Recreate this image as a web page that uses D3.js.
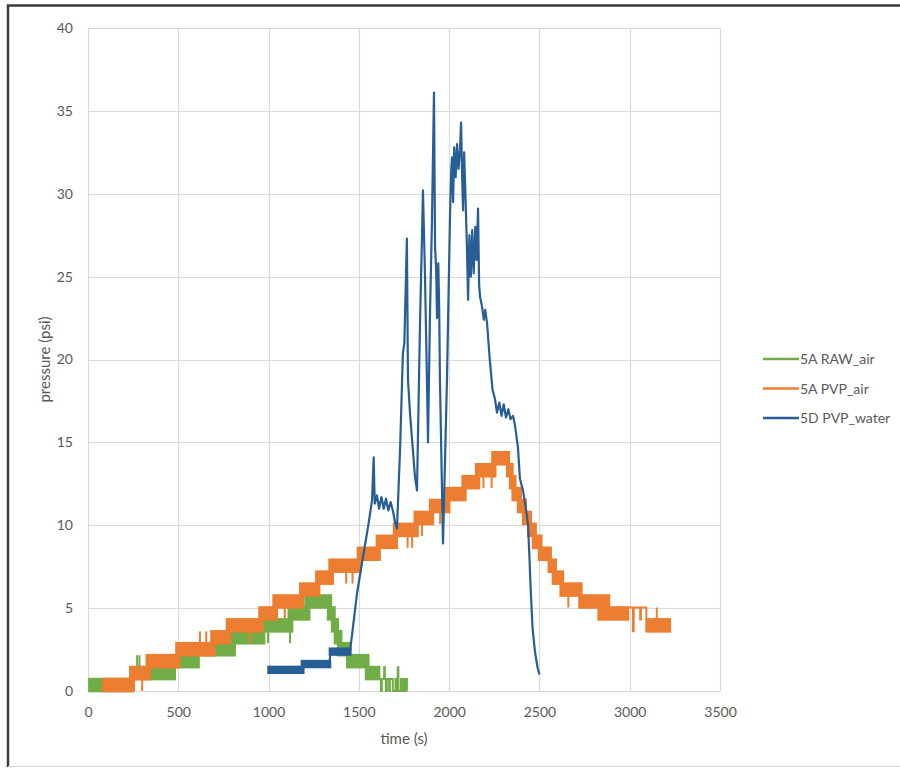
<!DOCTYPE html>
<html>
<head>
<meta charset="utf-8">
<script src="https://cdn.jsdelivr.net/npm/d3@7"></script>
<style>
    body { margin: 0; background: #fff; }
    text { font-family: Lato, "Liberation Sans", sans-serif; }
</style>
</head>
<body>
<div id="chartArea"></div>
<script>
const xTicks = [0, 500, 1000, 1500, 2000, 2500, 3000, 3500];
const yTicks = [0, 5, 10, 15, 20, 25, 30, 35, 40];
const seriesNames = ["5A RAW_air", "5A PVP_air", "5D PVP_water"];
const seriesColors = ["#70ad47", "#ed7d31", "#285e96"];

// the gauges flicker between two readings, read as bands: [tStart, tEnd, low, high]
const rawAirBands = [
    [8, 250, 0, 0.72], [235, 480, 0.72, 1.44], [462, 612, 1.44, 2.16],
    [592, 812, 2.16, 2.88], [792, 975, 2.88, 3.6], [958, 1130, 3.6, 4.32],
    [1112, 1225, 4.32, 5.04], [1205, 1345, 5.04, 5.76], [1330, 1365, 4.32, 5.04],
    [1352, 1383, 3.6, 4.32], [1368, 1402, 2.88, 3.6], [1386, 1452, 2.16, 2.88],
    [1436, 1552, 1.44, 2.16], [1540, 1612, 0.72, 1.44]
];
// single flicks outside a band: [t, from, to]
const rawAirSpikes = [
    [272, 1.44, 2.16], [285, 1.44, 2.16], [997, 3.6, 2.88], [1119, 3.6, 2.88]
];
// thin end of the trace: [t, pressure]
const rawAirTail = [
    [1610, 0.72], [1622, 0], [1627, 0.72], [1640, 1.44], [1644, 0.72], [1650, 0],
    [1655, 0.72], [1668, 0], [1672, 0.72], [1688, 0], [1703, 0.72], [1707, 0],
    [1715, 1.44], [1719, 0], [1733, 0.72], [1737, 0], [1748, 0.72], [1752, 0],
    [1762, 0.72], [1766, 0]
];

const pvpAirBands = [
    [85, 245, 0, 0.72], [236, 342, 0.72, 1.44], [326, 505, 1.44, 2.16],
    [490, 700, 2.16, 2.88], [684, 785, 2.88, 3.6], [770, 965, 3.6, 4.32],
    [950, 1045, 4.32, 5.04], [1028, 1190, 5.04, 5.76], [1176, 1280, 5.76, 6.48],
    [1265, 1355, 6.48, 7.2], [1338, 1510, 7.2, 7.92], [1495, 1615, 7.92, 8.64],
    [1600, 1710, 8.64, 9.36], [1695, 1825, 9.36, 10.08], [1810, 1910, 10.08, 10.8],
    [1895, 2000, 10.8, 11.52], [1985, 2090, 11.52, 12.24], [2075, 2165, 12.24, 12.96],
    [2150, 2255, 12.96, 13.68], [2240, 2330, 13.68, 14.4], [2322, 2350, 12.96, 13.68],
    [2338, 2366, 12.24, 12.96], [2352, 2396, 11.52, 12.24], [2382, 2424, 10.8, 11.52],
    [2410, 2452, 10.08, 10.8], [2438, 2479, 9.36, 10.08], [2465, 2510, 8.64, 9.36],
    [2498, 2562, 7.92, 8.64], [2552, 2590, 7.2, 7.92], [2575, 2630, 6.48, 7.2],
    [2618, 2732, 5.76, 6.48], [2722, 2885, 5.04, 5.76], [2828, 2990, 4.32, 5.04],
    [3100, 3222, 3.6, 4.32]
];
const pvpAirSpikes = [
    [255, 0.72, 0], [300, 0.72, 0], [620, 2.88, 3.6], [655, 2.88, 3.6],
    [895, 3.6, 2.88], [1090, 5.04, 4.32], [1430, 7.2, 6.48], [1465, 7.2, 6.48],
    [1770, 9.36, 8.64], [1795, 9.36, 8.64], [1850, 10.08, 9.36], [1950, 10.8, 10.08],
    [2190, 12.96, 12.24], [2235, 12.96, 12.24], [2660, 5.76, 5.04], [3150, 4.32, 5.04]
];
const pvpAirTail = [
    [2990, 5.04], [3018, 3.6], [3022, 5.04], [3058, 4.32], [3062, 5.04],
    [3092, 3.6], [3097, 4.32], [3100, 4.32]
];

// noisy low stretches of the water gauge before the climb
const pvpWaterBands = [
    [1000, 1192, 1.1, 1.45], [1185, 1340, 1.45, 1.8], [1340, 1452, 2.2, 2.55]
];
const pvpWater = [
    [1000, 1.3], [1190, 1.3], [1200, 1.6], [1335, 1.6], [1345, 2.4],
    [1451, 2.4], [1468, 3.9], [1490, 5.9], [1523, 8.1], [1551, 9.9],
    [1573, 11.5], [1582, 14.1], [1588, 11.3], [1600, 11.8], [1612, 11.0], [1625, 11.7],
    [1638, 11.0], [1650, 11.6], [1663, 10.9], [1676, 11.4], [1690, 10.8], [1700, 10.2],
    [1711, 9.8], [1728, 14.5], [1744, 20.4], [1752, 21.0], [1766, 27.3], [1772, 18.8],
    [1783, 16.8], [1811, 12.9], [1822, 12.1], [1839, 22.4], [1850, 27.6], [1855, 30.2],
    [1866, 25.2], [1877, 18.8], [1883, 15.0], [1894, 22.8], [1905, 28.4], [1916, 36.1],
    [1922, 26.8], [1928, 25.5], [1933, 22.5], [1940, 25.8], [1945, 23.0], [1949, 18.8],
    [1966, 8.9], [1988, 18.8], [2005, 28.8], [2012, 31.5], [2016, 32.2], [2022, 29.5],
    [2028, 32.8], [2036, 31.0], [2044, 33.0], [2052, 31.5], [2060, 32.6], [2066, 34.3],
    [2072, 31.0], [2077, 29.0], [2083, 32.5], [2090, 30.0], [2098, 27.0], [2105, 23.6],
    [2112, 27.5], [2120, 25.0], [2128, 27.8], [2136, 25.2], [2145, 28.0], [2152, 26.0],
    [2160, 29.1], [2166, 24.5], [2171, 23.8], [2182, 23.2], [2192, 22.4], [2200, 23.0],
    [2210, 22.2], [2225, 20.0], [2240, 18.2], [2254, 17.6], [2265, 16.8], [2278, 17.4],
    [2290, 16.6], [2302, 17.3], [2315, 16.5], [2328, 17.0], [2340, 16.4], [2354, 16.6],
    [2365, 16.0], [2381, 14.7], [2392, 12.8], [2409, 12.1], [2425, 11.0], [2437, 10.0],
    [2445, 8.0], [2452, 6.0], [2462, 3.8], [2475, 2.4], [2490, 1.4], [2500, 1.0]
];

const width = 900;
const height = 768;
const plot = { left: 88, top: 28, right: 720, bottom: 691 };

const svg = d3
    .select("#chartArea")
    .append("svg")
    .attr("width", width)
    .attr("height", height);

svg.append("rect")
    .attr("width", width)
    .attr("height", height)
    .attr("fill", "#fff");

// frame of the pasted chart
svg.append("path")
    .attr("d", `M8,767 L8,5.5 L900,5.5`)
    .attr("fill", "none")
    .attr("stroke", "#3c3c3c")
    .attr("stroke-width", 2.5);
svg.append("line")
    .attr("x1", 8).attr("x2", width)
    .attr("y1", 766.5).attr("y2", 766.5)
    .attr("stroke", "#d0d0d0");

const xScale = d3.scaleLinear().domain([0, 3500]).range([plot.left, plot.right]);
const yScale = d3.scaleLinear().domain([0, 40]).range([plot.bottom, plot.top]);

// gridlines
svg.append("g")
    .selectAll("line")
    .data(xTicks)
    .join("line")
    .attr("x1", (d) => Math.round(xScale(d)) + 0.5)
    .attr("x2", (d) => Math.round(xScale(d)) + 0.5)
    .attr("y1", plot.top)
    .attr("y2", plot.bottom)
    .attr("stroke", "#d9d9d9")
    .attr("stroke-width", 1.2);

svg.append("g")
    .selectAll("line")
    .data(yTicks)
    .join("line")
    .attr("x1", plot.left)
    .attr("x2", plot.right)
    .attr("y1", (d) => Math.round(yScale(d)) + 0.5)
    .attr("y2", (d) => Math.round(yScale(d)) + 0.5)
    .attr("stroke", "#d9d9d9")
    .attr("stroke-width", 1.2);

const xAxis = d3.axisBottom(xScale)
    .tickValues(xTicks)
    .tickFormat(d3.format("d"))
    .tickSize(0)
    .tickPadding(16);
const xAxisGroup = svg.append("g")
    .attr("transform", `translate(0,${plot.bottom})`)
    .call(xAxis);
xAxisGroup.select(".domain").remove();
xAxisGroup.selectAll("text")
    .style("font-size", "14px")
    .style("font-family", "Lato, sans-serif")
    .attr("fill", "#595959");

const yAxis = d3.axisLeft(yScale).tickValues(yTicks).tickSize(0).tickPadding(15);
const yAxisGroup = svg.append("g")
    .attr("transform", `translate(${plot.left},0)`)
    .call(yAxis);
yAxisGroup.select(".domain").remove();
yAxisGroup.selectAll("text")
    .style("font-size", "14px")
    .style("font-family", "Lato, sans-serif")
    .attr("fill", "#595959");

// axis titles
svg.append("text")
    .attr("x", (plot.left + plot.right) / 2)
    .attr("y", 744)
    .attr("text-anchor", "middle")
    .style("font-size", "15px")
    .attr("fill", "#595959")
    .text("time (s)");

svg.append("text")
    .attr("transform", `translate(50,${(plot.top + plot.bottom) / 2}) rotate(-90)`)
    .attr("text-anchor", "middle")
    .style("font-size", "15px")
    .attr("fill", "#595959")
    .text("pressure (psi)");

const stepLine = d3.line()
    .x((d) => xScale(d[0]))
    .y((d) => yScale(d[1]))
    .curve(d3.curveStepAfter);

const drawBands = (g, bands, color) => {
    g.selectAll("rect")
        .data(bands)
        .join("rect")
        .attr("x", (d) => xScale(d[0]))
        .attr("y", (d) => yScale(d[3]))
        .attr("width", (d) => xScale(d[1]) - xScale(d[0]))
        .attr("height", (d) => yScale(d[2]) - yScale(d[3]))
        .attr("fill", color)
        .attr("stroke", color)
        .attr("stroke-width", 2.6);
};

const drawFlicker = (bands, spikes, tail, color) => {
    const g = svg.append("g");
    drawBands(g, bands, color);
    g.selectAll("line")
        .data(spikes)
        .join("line")
        .attr("x1", (d) => xScale(d[0]))
        .attr("x2", (d) => xScale(d[0]))
        .attr("y1", (d) => yScale(d[1]))
        .attr("y2", (d) => yScale(d[2]))
        .attr("stroke", color)
        .attr("stroke-width", 2);
    g.append("path")
        .attr("d", stepLine(tail))
        .attr("fill", "none")
        .attr("stroke", color)
        .attr("stroke-width", 2);
};

drawFlicker(rawAirBands, rawAirSpikes, rawAirTail, seriesColors[0]);
drawFlicker(pvpAirBands, pvpAirSpikes, pvpAirTail, seriesColors[1]);

const waterGroup = svg.append("g");
drawBands(waterGroup, pvpWaterBands, seriesColors[2]);

const waterLine = d3.line()
    .x((d) => xScale(d[0]))
    .y((d) => yScale(d[1]));

waterGroup.append("path")
    .attr("d", waterLine(pvpWater))
    .attr("fill", "none")
    .attr("stroke", seriesColors[2])
    .attr("stroke-width", 2.2)
    .attr("stroke-linejoin", "round");

// legend
const legend = svg.append("g")
    .selectAll("g")
    .data(seriesNames)
    .join("g")
    .attr("transform", (d, i) => `translate(763,${359 + i * 29.5})`);

legend.append("line")
    .attr("x1", 0)
    .attr("x2", 36)
    .attr("stroke", (d, i) => seriesColors[i])
    .attr("stroke-width", 2.5);

legend.append("text")
    .attr("x", 37)
    .attr("dy", "0.36em")
    .style("font-size", "14px")
    .attr("fill", "#595959")
    .text((d) => d);
</script>
</body>
</html>
